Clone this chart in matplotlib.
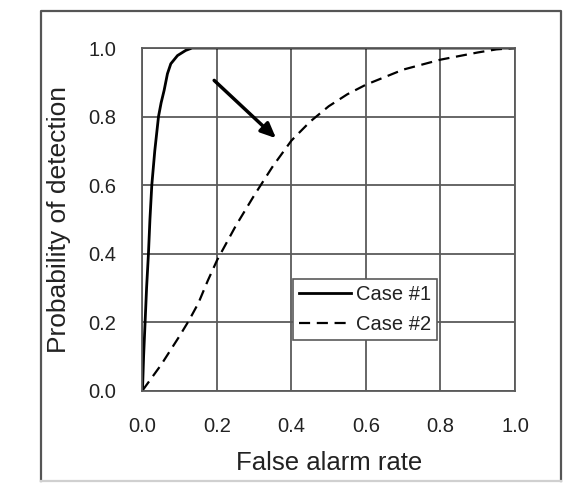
import matplotlib
matplotlib.use("Agg")
import matplotlib.pyplot as plt
from matplotlib.lines import Line2D

plt.rcParams['font.family'] = ['Liberation Sans', 'DejaVu Sans']

# Case #1 - steep ROC curve
case1_far = [0, 0.003, 0.005, 0.007, 0.011, 0.016, 0.020, 0.025, 0.033, 0.043,
             0.050, 0.058, 0.067, 0.076, 0.094, 0.116, 0.133, 1.0]
case1_pd = [0, 0.10, 0.15, 0.20, 0.30, 0.40, 0.50, 0.60, 0.70, 0.80,
            0.84, 0.876, 0.925, 0.954, 0.978, 0.993, 1.0, 1.0]

# Case #2 - shallower ROC curve
case2_far = [0, 0.05, 0.1, 0.125, 0.15, 0.175, 0.2, 0.25, 0.3, 0.35, 0.4, 0.45,
             0.5, 0.55, 0.6, 0.7, 0.8, 0.9, 0.95, 1.0]
case2_pd = [0, 0.075, 0.16, 0.205, 0.255, 0.32, 0.38, 0.48, 0.57, 0.655, 0.73, 0.785,
            0.83, 0.865, 0.893, 0.937, 0.966, 0.987, 0.996, 1.0]

ticks = [0.0, 0.2, 0.4, 0.6, 0.8, 1.0]
tick_labels = ['0.0', '0.2', '0.4', '0.6', '0.8', '1.0']

grid_col = '#5a5a5a'
text_col = '#222222'

fig = plt.figure(figsize=(5.65, 4.86), dpi=100)
ax = fig.add_axes([0.2522, 0.1965, 0.6593, 0.7047])

# outer frame (bottom edge is faint in the original)
L, R, T, B = 0.0726, 0.993, 0.977, 0.0103
fig.lines.append(Line2D([L, L, R, R], [B, T, T, B], transform=fig.transFigure,
                        color='#555555', lw=1.6))
fig.lines.append(Line2D([L, R], [B, B], transform=fig.transFigure,
                        color='#d0d0d0', lw=1.6))

ax.plot(case1_far, case1_pd, '-', color='black', lw=2.0, label='Case #1')
ax.plot(case2_far, case2_pd, color='black', lw=1.6, linestyle=(0, (5, 3)), label='Case #2')

ax.annotate('', xy=(0.364, 0.731), xytext=(0.187, 0.911),
            arrowprops=dict(arrowstyle='-|>,head_length=0.9,head_width=0.4', color='black', lw=2.5))

ax.set_xlim(0, 1)
ax.set_ylim(0, 1)
ax.set_xticks(ticks)
ax.set_yticks(ticks)
ax.set_xticklabels(tick_labels)
ax.set_yticklabels(tick_labels)
ax.tick_params(length=0, labelsize=14.5, labelcolor=text_col, pad=19)
ax.grid(True, color=grid_col, lw=1.3)
for s in ax.spines.values():
    s.set_color(grid_col)
    s.set_linewidth(1.3)

ax.set_xlabel('False alarm rate', fontsize=18.5, color=text_col, labelpad=11)
ax.set_ylabel('Probability of detection', fontsize=19, color=text_col, labelpad=12)

leg = ax.legend(loc='lower left', bbox_to_anchor=(0.403, 0.148), fontsize=14.5,
                fancybox=False, framealpha=1, edgecolor=grid_col, handlelength=2.6,
                handletextpad=0.25, borderpad=0.3, borderaxespad=0, labelspacing=0.55)
leg.get_frame().set_linewidth(1.2)
for t in leg.get_texts():
    t.set_color(text_col)

fig.savefig('out.png', dpi=100)
